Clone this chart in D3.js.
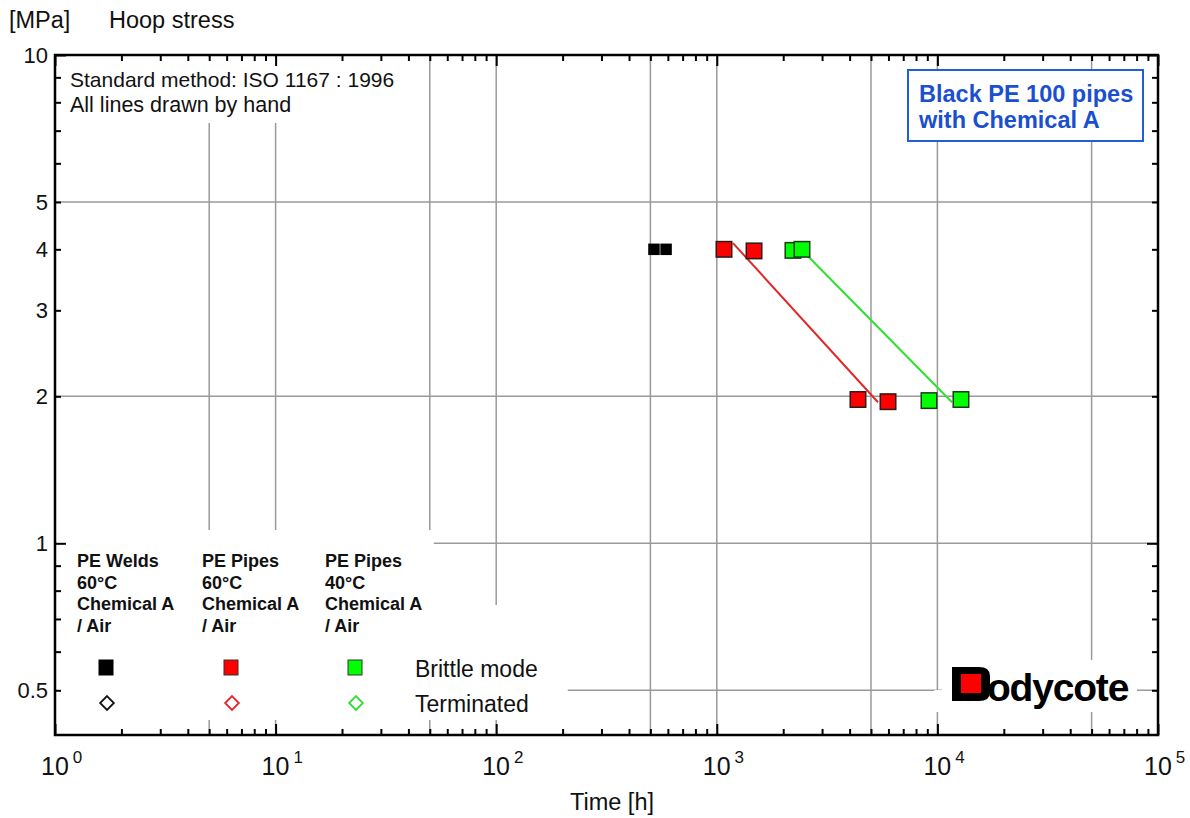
<!DOCTYPE html>
<html>
<head>
<meta charset="utf-8">
<script src="https://cdn.jsdelivr.net/npm/d3@7"></script>
<style>
  body { margin: 0; background: #fff; }
  svg { display: block; font-family: "Liberation Sans", Arial, sans-serif; }
  .grid line { stroke: #9a9a9a; stroke-width: 1.5; }
  .tick-axis path { display: none; }
  .tick-axis line { stroke: #000; stroke-width: 2; }
  .ylab { font-size: 22px; fill: #111; }
  .xlab { font-size: 25px; fill: #111; }
  .leg-head { font-weight: bold; font-size: 18px; fill: #111; }
</style>
</head>
<body>
<div id="chart"></div>
<script>
// time to failure [h] and hoop stress [MPa]
const weldsTime = [519, 589];
const weldsStress = [4, 4];
const pipes60Time = [1078, 1475, 4365, 5973];
const pipes60Stress = [4, 3.97, 1.97, 1.95];
const pipes40Time = [2214, 2433, 9160, 12790];
const pipes40Stress = [3.98, 4, 1.96, 1.97];

// hand drawn lines (start, end)
const line60Time = [1184, 5380];
const line60Stress = [4.12, 1.945];
const line40Time = [2564, 11650];
const line40Stress = [3.89, 1.945];

const xDecades = [1, 10, 100, 1000, 10000, 100000];
const xGrid = [5, 10, 50, 100, 500, 1000, 5000, 10000, 50000];
const yGrid = [5, 2, 1, 0.5];
const yTickLabels = [10, 5, 4, 3, 2, 1, 0.5];

const legendHeads = [
    ['PE Welds', '60°C', 'Chemical A', '/ Air'],
    ['PE Pipes', '60°C', 'Chemical A', '/ Air'],
    ['PE Pipes', '40°C', 'Chemical A', '/ Air']
];
const seriesColors = ['#000000', '#ff0000', '#00ff00'];
const diamondColors = ['#111111', '#e8232b', '#2fe02f'];

const width = 1190, height = 818;
const margin = {top: 55, right: 32, bottom: 83, left: 55};

const x = d3.scaleLog().domain([1, 100000]).range([margin.left, width - margin.right]);
const y = d3.scaleLog().domain([0.405, 10]).range([height - margin.bottom, margin.top]);

const svg = d3.select('#chart').append('svg')
    .attr('width', width)
    .attr('height', height);

const pLeft = margin.left, pRight = width - margin.right;
const pTop = margin.top, pBottom = height - margin.bottom;

// grid
const grid = svg.append('g').attr('class', 'grid');
grid.selectAll('.vg').data(xGrid).enter().append('line')
    .attr('x1', d => x(d)).attr('x2', d => x(d))
    .attr('y1', pTop).attr('y2', pBottom);
grid.selectAll('.hg').data(yGrid).enter().append('line')
    .attr('x1', pLeft).attr('x2', pRight)
    .attr('y1', d => y(d)).attr('y2', d => y(d));

// white areas behind the annotations (the grid is broken there)
const masks = [
    [pLeft + 2, pTop + 2, 370, 66],
    [pLeft + 2, 530, x(50) + 2 - pLeft, 190],
    [x(50) + 2, 605, 136, 115],
    [942, 660, 195, 52],
    [x(10000) - 3, 690, 10, 22]
];
svg.selectAll('.mask').data(masks).enter().append('rect')
    .attr('x', d => d[0]).attr('y', d => d[1])
    .attr('width', d => d[2]).attr('height', d => d[3])
    .attr('fill', '#fff');

// ticks on all four sides, pointing inward
const xMinor = [];
const yMinor = [];
for (let e = 0; e < 5; e++) for (let m = 2; m <= 9; m++) xMinor.push(m * Math.pow(10, e));
[0.1, 1].forEach(b => { for (let m = 2; m <= 9; m++) { const v = m * b; if (v >= 0.405 && v < 10) yMinor.push(v); } });
const yMajor = [1, 10];

function tickAxis(axisFn, scale, vals, size, tx, ty) {
    svg.append('g')
        .attr('class', 'tick-axis')
        .attr('transform', `translate(${tx},${ty})`)
        .call(axisFn(scale).tickValues(vals).tickSize(size).tickFormat(''));
}
tickAxis(d3.axisBottom, x, xDecades, -11, 0, pBottom);
tickAxis(d3.axisBottom, x, xMinor, -6, 0, pBottom);
tickAxis(d3.axisTop, x, xDecades, -11, 0, pTop);
tickAxis(d3.axisTop, x, xMinor, -6, 0, pTop);
tickAxis(d3.axisLeft, y, yMajor, -11, pLeft, 0);
tickAxis(d3.axisLeft, y, yMinor, -6, pLeft, 0);
tickAxis(d3.axisRight, y, yMajor, -11, pRight, 0);
tickAxis(d3.axisRight, y, yMinor, -6, pRight, 0);

// frame
svg.append('rect')
    .attr('x', pLeft).attr('y', pTop)
    .attr('width', pRight - pLeft).attr('height', pBottom - pTop)
    .attr('fill', 'none').attr('stroke', '#000').attr('stroke-width', 2.5);

// y tick labels
svg.selectAll('.ylab').data(yTickLabels).enter().append('text')
    .attr('class', 'ylab')
    .attr('x', 48)
    .attr('y', d => y(d) + 8)
    .attr('text-anchor', 'end')
    .text(d => d);

// x tick labels 10^n
const xl = svg.selectAll('.xlab').data(xDecades).enter().append('text')
    .attr('class', 'xlab')
    .attr('x', d => x(d) - 14)
    .attr('y', pBottom + 40);
xl.append('tspan').text('10');
xl.append('tspan').attr('dx', 4).attr('dy', -12).attr('font-size', 17).text(d => Math.round(Math.log10(d)));

// axis titles
svg.append('text').attr('x', 9).attr('y', 28).attr('font-size', 23.5).attr('fill', '#111')
    .text('[MPa]');
svg.append('text').attr('x', 109).attr('y', 28).attr('font-size', 23.5).attr('fill', '#111')
    .text('Hoop stress');
svg.append('text').attr('x', 612).attr('y', 810).attr('font-size', 23.5).attr('fill', '#111')
    .attr('text-anchor', 'middle')
    .text('Time [h]');

// note
svg.append('text').attr('x', 70).attr('y', 87).attr('font-size', 21).attr('fill', '#111')
    .text('Standard method: ISO 1167 : 1996');
svg.append('text').attr('x', 70).attr('y', 112).attr('font-size', 21.5).attr('fill', '#111')
    .text('All lines drawn by hand');

// title box
svg.append('rect')
    .attr('x', 908).attr('y', 70).attr('width', 235).attr('height', 71)
    .attr('fill', '#fff').attr('stroke', '#1f5fd9').attr('stroke-width', 2);
svg.append('text').attr('x', 919).attr('y', 102)
    .attr('font-weight', 'bold').attr('font-size', 23.5).attr('fill', '#1a4fcf')
    .text('Black PE 100 pipes');
svg.append('text').attr('x', 919).attr('y', 128)
    .attr('font-weight', 'bold').attr('font-size', 23.5).attr('fill', '#1a4fcf')
    .text('with Chemical A');

// hand drawn lines
const lineGen = d3.line().x(d => x(d[0])).y(d => y(d[1]));
svg.append('path')
    .attr('d', lineGen(d3.zip(line60Time, line60Stress)))
    .attr('fill', 'none').attr('stroke', '#e02828').attr('stroke-width', 2);
svg.append('path')
    .attr('d', lineGen(d3.zip(line40Time, line40Stress)))
    .attr('fill', 'none').attr('stroke', '#2fe02f').attr('stroke-width', 2);

// data points (all brittle)
function squares(times, stresses, size, fill, stroke, sw) {
    svg.append('g').selectAll('rect')
        .data(d3.zip(times, stresses)).enter().append('rect')
        .attr('x', d => x(d[0]) - size / 2)
        .attr('y', d => y(d[1]) - size / 2)
        .attr('width', size).attr('height', size)
        .attr('fill', fill)
        .attr('stroke', stroke).attr('stroke-width', sw);
}
squares(weldsTime, weldsStress, 11.5, '#000', 'none', 0);
squares(pipes60Time, pipes60Stress, 15.5, '#ff0000', '#2a1a1a', 1.5);
squares(pipes40Time, pipes40Stress, 15.5, '#00ff00', '#1d3a1d', 1.5);

// legend
const legX = [77, 202, 325];
const legMarkX = [106, 231, 355];
legendHeads.forEach((lines, i) => {
    lines.forEach((t, j) => {
        svg.append('text').attr('class', 'leg-head')
            .attr('x', legX[i]).attr('y', 567 + j * 21.6)
            .text(t);
    });
    svg.append('rect')
        .attr('x', legMarkX[i] - 7).attr('y', 660)
        .attr('width', 14).attr('height', 15)
        .attr('fill', seriesColors[i])
        .attr('stroke', i === 0 ? '#000' : '#333').attr('stroke-width', 1);
    svg.append('path')
        .attr('d', d3.symbol().type(d3.symbolDiamond2).size(120)())
        .attr('transform', `translate(${legMarkX[i] + 1},${703})`)
        .attr('fill', '#fff')
        .attr('stroke', diamondColors[i]).attr('stroke-width', 1.8);
});
svg.append('text').attr('x', 415).attr('y', 677).attr('font-size', 23).attr('fill', '#111')
    .text('Brittle mode');
svg.append('text').attr('x', 415).attr('y', 712).attr('font-size', 23).attr('fill', '#111')
    .text('Terminated');

// Bodycote logo
svg.append('path')
    .attr('d', 'M952,667 H979 Q990,667 990,676 V692 Q990,701 979,701 H952 Z')
    .attr('fill', '#000');
svg.append('rect')
    .attr('x', 961).attr('y', 674).attr('width', 20).attr('height', 19)
    .attr('fill', '#ff0000');
svg.append('text').attr('x', 987).attr('y', 701)
    .attr('font-weight', 'bold').attr('font-size', 39).attr('letter-spacing', -1.2)
    .attr('fill', '#000')
    .text('odycote');
</script>
</body>
</html>
